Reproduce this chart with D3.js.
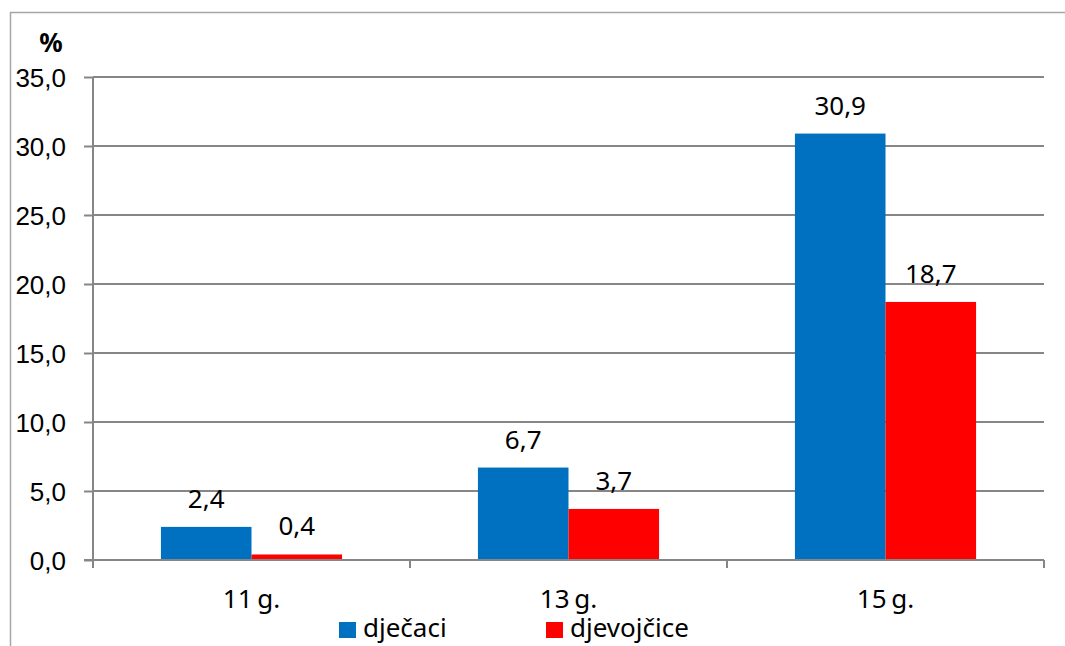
<!DOCTYPE html>
<html>
<head>
<meta charset="utf-8">
<script src="https://cdn.jsdelivr.net/npm/d3@7"></script>
<style>
  html, body { margin: 0; padding: 0; background: #fff; }
  svg { display: block; font-family: "Noto Sans", "Open Sans", sans-serif; }
</style>
</head>
<body>
<svg id="chart" width="1065" height="646"></svg>
<script>
// Share of pupils by age group, per sex (%)
const categories = ["11 g.", "13 g.", "15 g."];
const seriesNames = ["dječaci", "djevojčice"];
const boys = [2.4, 6.7, 30.9];
const girls = [0.4, 3.7, 18.7];
const yTicks = [0, 5, 10, 15, 20, 25, 30, 35];
const colors = ["#0070C0", "#FF0000"];

const svg = d3.select("#chart");
const fmt = v => d3.format(".1f")(v).replace(".", ",");

const plotLeft = 93, plotRight = 1044, plotTop = 77, plotBottom = 560;

// outer frame (only left and top edges fall inside the canvas)
svg.append("rect")
  .attr("x", 10.5).attr("y", 12.5)
  .attr("width", 1100).attr("height", 700)
  .attr("fill", "none").attr("stroke", "#a6a6a6").attr("stroke-width", 1.5);

const x = d3.scaleBand().domain(categories).range([plotLeft, plotRight]).paddingInner(0).paddingOuter(0);
// gap width 150% of a bar: each band holds 2 bars plus 0.75 bar on each side
const inner = d3.scaleBand().domain(seriesNames).range([0, x.bandwidth()])
  .paddingInner(0).paddingOuter(0.75);
const y = d3.scaleLinear().domain([0, 35]).range([plotBottom, plotTop]);

// y tick stubs and labels
const yAxis = d3.axisLeft(y).tickValues(yTicks).tickFormat(fmt).tickSize(9).tickPadding(18);
const gy = svg.append("g").attr("transform", `translate(${plotLeft},0)`).call(yAxis);
gy.select(".domain").remove();
gy.selectAll(".tick line").attr("stroke", "#868686").attr("stroke-width", 2);
gy.selectAll(".tick text").attr("font-size", 26).attr("fill", "#000").attr("dy", "0.36em");

// horizontal gridlines
svg.append("g").selectAll("line.grid").data(yTicks.filter(d => d > 0)).join("line")
  .attr("class", "grid")
  .attr("x1", plotLeft).attr("x2", plotRight)
  .attr("y1", d => y(d)).attr("y2", d => y(d))
  .attr("stroke", "#868686").attr("stroke-width", 2);

// bars
const rows = categories.map((c, i) => ({ cat: c, vals: [boys[i], girls[i]] }));
const groups = svg.append("g").selectAll("g").data(rows).join("g")
  .attr("transform", d => `translate(${x(d.cat)},0)`);

const cells = d => d.vals.map((v, j) => ({ name: seriesNames[j], v, j }));

groups.selectAll("rect").data(cells).join("rect")
  .attr("x", d => inner(d.name))
  .attr("width", inner.bandwidth())
  .attr("y", d => y(d.v))
  .attr("height", d => y(0) - y(d.v))
  .attr("fill", d => colors[d.j]);

groups.selectAll("text").data(cells).join("text")
  .attr("x", d => inner(d.name) + inner.bandwidth() / 2)
  .attr("y", d => y(d.v) - 19)
  .attr("text-anchor", "middle")
  .attr("font-size", 26)
  .attr("fill", "#000")
  .text(d => fmt(d.v));

// y axis line
svg.append("line").attr("x1", plotLeft).attr("x2", plotLeft).attr("y1", plotTop).attr("y2", plotBottom)
  .attr("stroke", "#868686").attr("stroke-width", 2);

// x axis with downward ticks at category boundaries
const gx = svg.append("g").attr("transform", `translate(0,${plotBottom})`);
gx.append("line").attr("x1", plotLeft - 9).attr("x2", plotRight).attr("y1", 0).attr("y2", 0)
  .attr("stroke", "#868686").attr("stroke-width", 2);
const bounds = categories.map(c => x(c)).concat([plotRight]);
gx.selectAll("line.tk").data(bounds).join("line").attr("class", "tk")
  .attr("x1", d => d).attr("x2", d => d).attr("y1", 0).attr("y2", 8)
  .attr("stroke", "#868686").attr("stroke-width", 2);
gx.selectAll("text").data(categories).join("text")
  .attr("x", d => x(d) + x.bandwidth() / 2)
  .attr("y", 48)
  .attr("text-anchor", "middle")
  .attr("font-size", 26)
  .attr("word-spacing", -2)
  .attr("fill", "#000")
  .text(d => d);

// unit label
svg.append("text").attr("x", 51).attr("y", 52).attr("text-anchor", "middle")
  .attr("font-size", 26).attr("font-weight", "bold").attr("fill", "#000").text("%");

// legend
const legendX = [339, 546];
const lg = svg.append("g").selectAll("g").data(seriesNames).join("g")
  .attr("transform", (d, i) => `translate(${legendX[i]},622)`);
lg.append("rect").attr("width", 17).attr("height", 16).attr("fill", (d, i) => colors[i]);
lg.append("text").attr("x", 24).attr("y", 15).attr("font-size", 26).attr("fill", "#000").text(d => d);
</script>
</body>
</html>
